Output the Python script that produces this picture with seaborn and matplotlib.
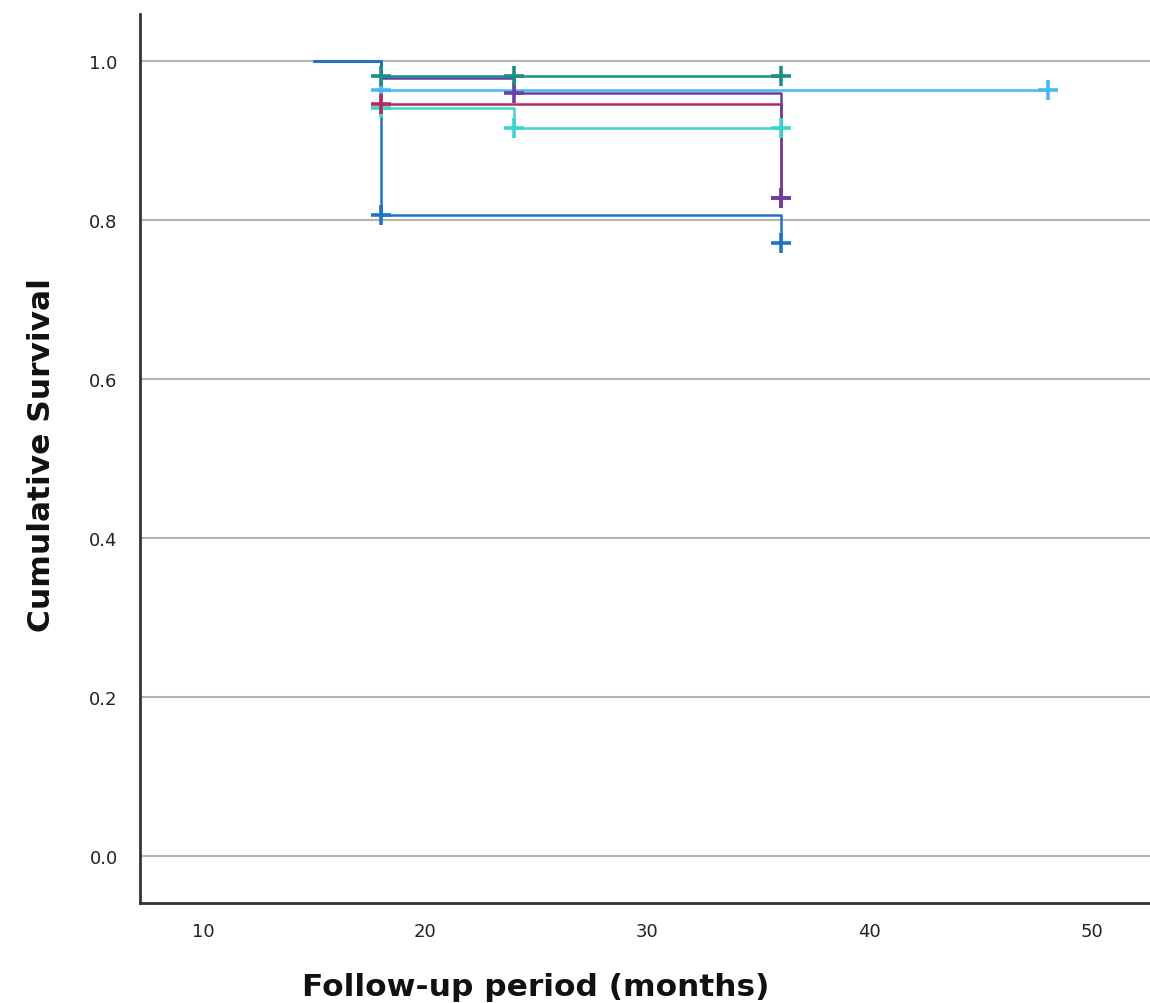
import pandas as pd
import matplotlib
matplotlib.use("Agg")
import matplotlib.pyplot as plt
import seaborn as sns

# Kaplan-Meier step points per group (time in months, cumulative survival)
groups = ["A", "B", "C", "D", "E", "F"]
step_times = {
    "A": [15, 18, 36],
    "B": [15, 18, 24, 36],
    "C": [15, 18, 48],
    "D": [15, 18, 36],
    "E": [15, 18, 24, 36],
    "F": [15, 18, 36],
}
step_surv = {
    "A": [1.0, 0.981, 0.981],
    "B": [1.0, 0.979, 0.959, 0.827],
    "C": [1.0, 0.963, 0.963],
    "D": [1.0, 0.946, 0.828],
    "E": [1.0, 0.941, 0.916, 0.916],
    "F": [1.0, 0.806, 0.771],
}
# censored observations
cens_times = {
    "A": [18, 24, 36],
    "B": [24, 36],
    "C": [18, 48],
    "D": [18, 36],
    "E": [18, 24, 36],
    "F": [18, 36],
}
cens_surv = {
    "A": [0.981, 0.981, 0.981],
    "B": [0.959, 0.827],
    "C": [0.963, 0.963],
    "D": [0.946, 0.828],
    "E": [0.941, 0.916, 0.916],
    "F": [0.806, 0.771],
}
colors = {
    "A": "#1b8d86",
    "B": "#6a3fa2",
    "C": "#4ab7f5",
    "D": "#b82a5c",
    "E": "#3bd5cf",
    "F": "#1f72c8",
}
draw_order = ["C", "E", "D", "B", "A", "F"]

sns.set_style("white")
plt.rcParams['font.family'] = ['DejaVu Sans']

fig = plt.figure(figsize=(11.5, 10.04), dpi=100)
ax = fig.add_axes([0.1217, 0.0996, 0.8783, 0.8855])

for g in draw_order:
    d = pd.DataFrame({"time": step_times[g], "surv": step_surv[g]})
    sns.lineplot(data=d, x="time", y="surv", ax=ax, color=colors[g],
                 drawstyle="steps-post", estimator=None, sort=False,
                 linewidth=1.8, zorder=3)
for g in draw_order:
    c = pd.DataFrame({"time": cens_times[g], "surv": cens_surv[g]})
    sns.scatterplot(data=c, x="time", y="surv", ax=ax, color=colors[g],
                    marker="+", s=200, linewidth=2.6, zorder=4)

ax.set_xlim(7.17, 52.6)
ax.set_ylim(-0.059, 1.059)
ax.set_xticks([10, 20, 30, 40, 50])
ax.set_yticks([0.0, 0.2, 0.4, 0.6, 0.8, 1.0])
ax.set_yticklabels(["0.0", "0.2", "0.4", "0.6", "0.8", "1.0"])
ax.tick_params(axis="both", length=0, labelsize=13, colors="#222222")
ax.tick_params(axis="x", pad=14)
ax.tick_params(axis="y", pad=16)
ax.yaxis.grid(True, color="#b4b4b4", linewidth=1.5, zorder=0)
ax.set_axisbelow(True)

for s in ["top", "right"]:
    ax.spines[s].set_visible(False)
for s in ["left", "bottom"]:
    ax.spines[s].set_color("#333333")
    ax.spines[s].set_linewidth(2)

ax.set_xlabel("Follow-up period (months)", fontsize=22.5, fontweight="bold", color="#111111")
ax.set_ylabel("Cumulative Survival", fontsize=22.5, fontweight="bold", color="#111111")
ax.xaxis.set_label_coords(0.392, -0.078)
ax.yaxis.set_label_coords(-0.083, 0.505)

fig.savefig("out.png", dpi=100)
